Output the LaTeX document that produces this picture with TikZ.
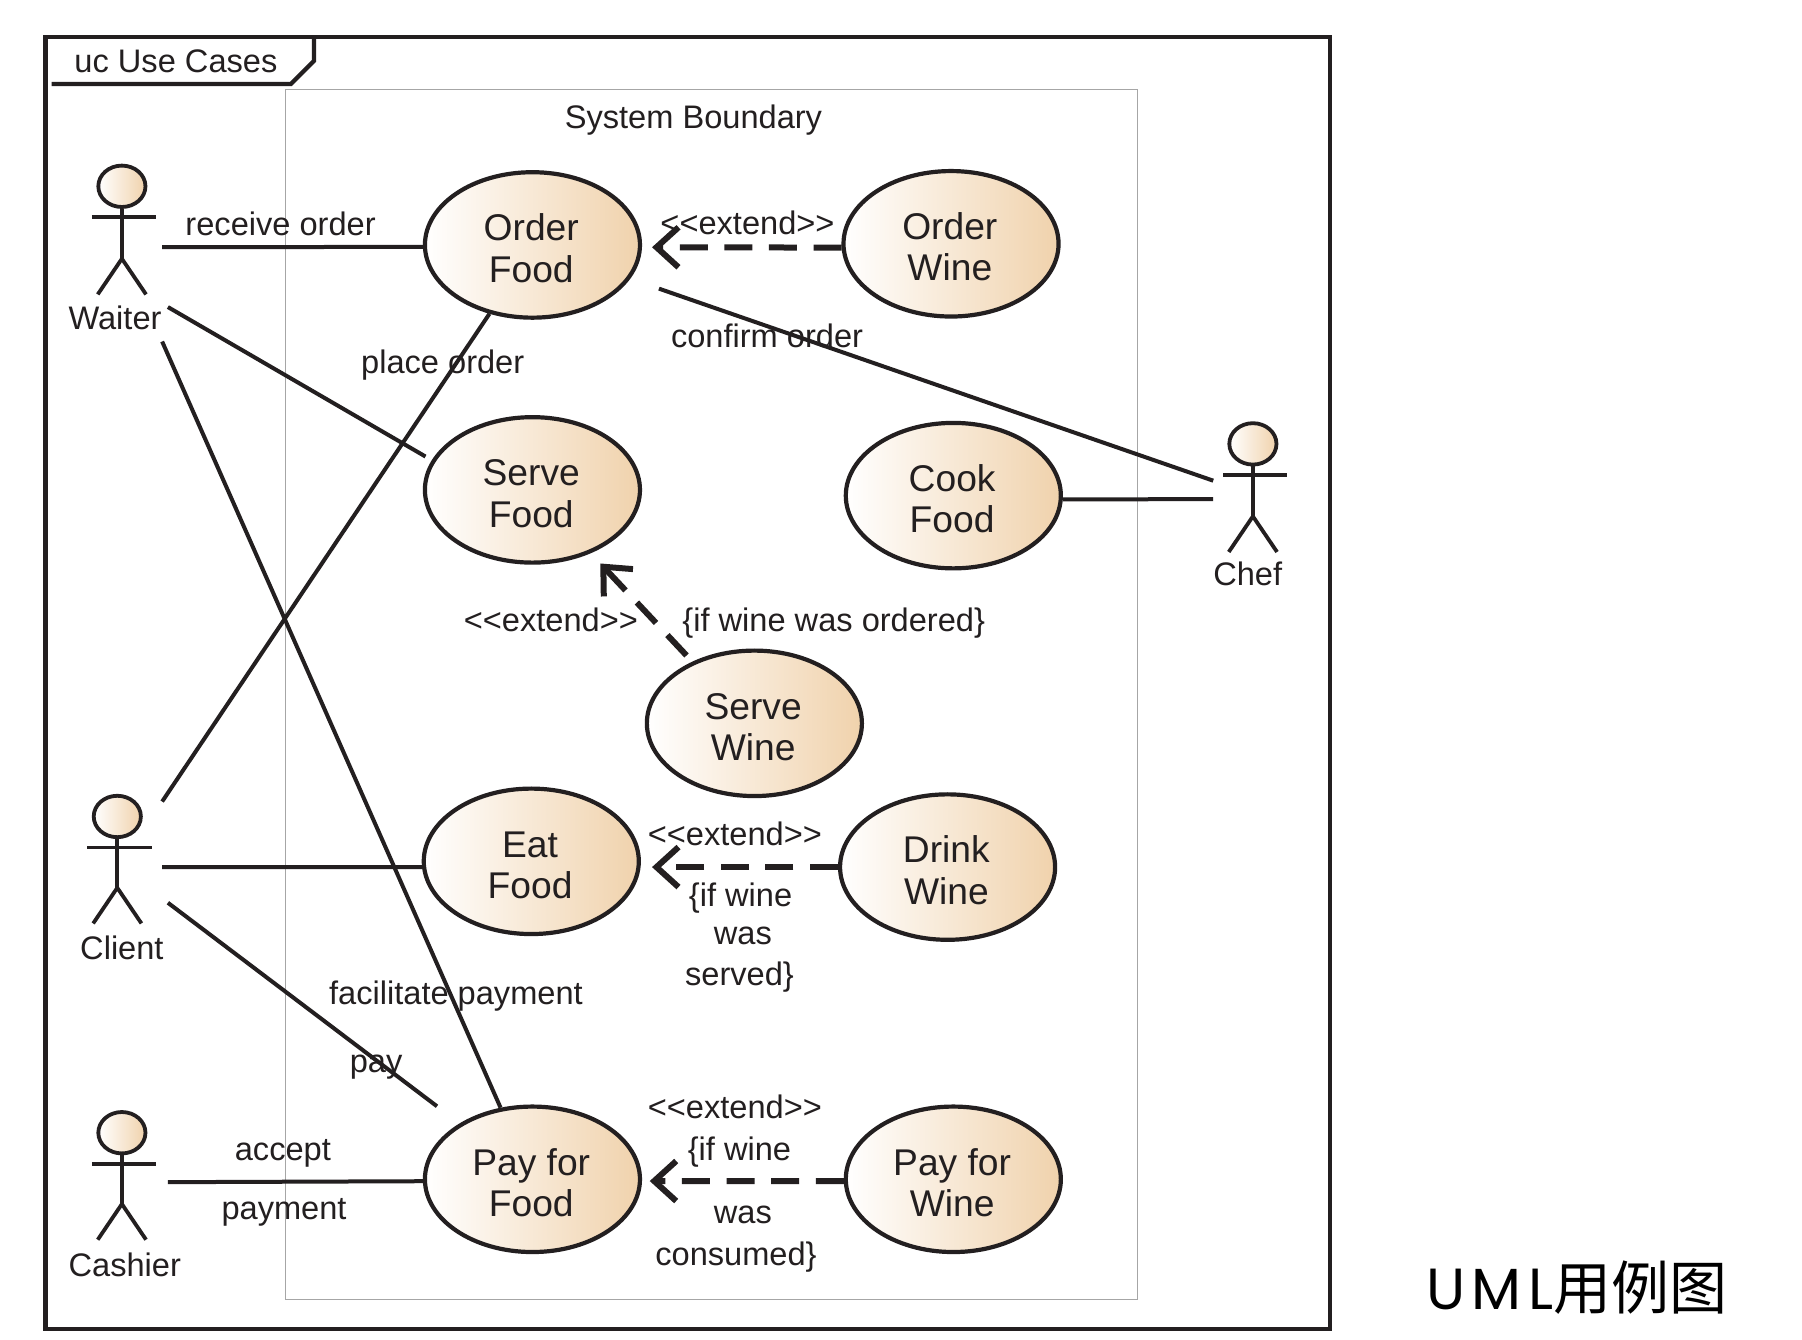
\documentclass[tikz,border=0pt]{standalone}
\usepackage{fontspec}
\setmainfont{Liberation Sans}
\newfontfamily\latinhead[LetterSpace=11]{Poppins}
\newfontfamily\cjkhead{Noto Sans CJK SC}
\usetikzlibrary{shapes.geometric,arrows.meta}
\definecolor{ink}{HTML}{231F20}
\definecolor{tan}{HTML}{F0D2AC}
\newcommand{\uctext}[2]{\rule{0pt}{16.6pt}\kern-1.2pt #1\\\kern-1.2pt #2}
\tikzset{
 usecase/.style={ellipse,draw=ink,line width=2.1pt,left color=white,right color=tan,minimum width=187*0.575pt,minimum height=126.5*0.575pt,inner sep=0pt,align=center,text=ink,font=\fontsize{18.6}{20.7}\selectfont},
 lbl/.style={text=ink,inner sep=0pt,align=center,font=\fontsize{16.3}{20}\selectfont},
 conn/.style={draw=ink,line width=2pt},
 ext/.style={draw=ink,line width=3pt,dash pattern=on 14pt off 8.3pt,-{Straight Barb[length=11pt,width=20pt,line width=3pt]}},
 stick/.style={draw=ink,line width=1.9pt},
 head/.style={ellipse,draw=ink,line width=1.9pt,left color=white,right color=tan,minimum width=41*0.575pt,minimum height=36*0.575pt,inner sep=0pt},
}
\newcommand{\actor}[6]{% name, x, head y, arms y, hip y, feet y
 \node[head] (#1h) at (#2,#3) {};
 \coordinate (#1b) at (#2,#5);
 \coordinate (#1al) at ({#2-26},#4);
 \coordinate (#1ar) at ({#2+30},#4);
 \coordinate (#1fl) at ({#2-21},#6);
 \coordinate (#1fr) at ({#2+21},#6);
 \draw[stick] (#1h.south) -- (#1b);
 \draw[stick] (#1al) -- (#1ar);
 \draw[stick] (#1fl) -- (#1b) -- (#1fr);
}
\begin{document}
\begin{tikzpicture}[x=0.575pt,y=-0.575pt]
\useasboundingbox (0,0) rectangle (1567,1165.2);
\fill[white] (0,0) rectangle (1567,1165.2);
% frame
\coordinate (fa) at (39.5,32);
\coordinate (fb) at (1156.5,1155.5);
\draw[draw=ink,line width=2.1pt] (fa) rectangle (fb);
\coordinate (ta) at (45,73);
\coordinate (tb) at (253,73);
\coordinate (tc) at (273,53);
\coordinate (td) at (273,33);
\draw[draw=ink,line width=2.1pt] (ta) -- (tb) -- (tc) -- (td);
\node[lbl] (frameT) at (153,53) {uc Use Cases};
\coordinate (ba) at (248,78);
\coordinate (bb) at (989,1130);
\draw[draw=black!35,line width=0.6pt] (ba) rectangle (bb);
\node[lbl] (sysT) at (603,104.5) {System Boundary};
% use cases
\node[usecase] (of) at (463,213) {\uctext{Order}{Food}};
\node[usecase] (ow) at (827,212) {\uctext{Order}{Wine}};
\node[usecase] (sf) at (463,426) {\uctext{Serve}{Food}};
\node[usecase] (cf) at (829,431) {\uctext{Cook}{Food}};
\node[usecase] (sw) at (656,629) {\uctext{Serve}{Wine}};
\node[usecase] (ef) at (462,749) {\uctext{Eat}{Food}};
\node[usecase] (dw) at (824,754) {\uctext{Drink}{Wine}};
\node[usecase] (pf) at (463,1025.5) {\uctext{Pay for}{Food}};
\node[usecase] (pw) at (829,1025.5) {\uctext{Pay for}{Wine}};
% actors
\actor{w}{106}{162}{189}{225}{256}
\node[lbl] (wl) at (100,276) {Waiter};
\actor{k}{1089.5}{386}{413}{449}{480}
\node[lbl] (kl) at (1085,499) {Chef};
\actor{c}{102}{710}{737}{772}{803}
\node[lbl] (cl) at (106,824) {Client};
\actor{p}{106}{985}{1012}{1047}{1078}
\node[lbl] (pl) at (108.5,1099.5) {Cashier};
% connector free ends
\coordinate (w1) at (141,215);
\coordinate (w2) at (146,267);
\coordinate (w2e) at (370,397);
\coordinate (w3) at (141,297);
\coordinate (c1) at (141,697);
\coordinate (c2) at (141,754);
\coordinate (c3) at (146,785);
\coordinate (c3e) at (380,962);
\coordinate (p1) at (146,1028);
\coordinate (k1) at (1055,418);
\coordinate (k2) at (1055,434);
\coordinate (of1) at (573,251);
\coordinate (a1) at (567,215);
\coordinate (a2) at (522,490);
\coordinate (a2s) at (597,570);
\coordinate (a3) at (567,754);
\coordinate (a4) at (565,1027);
\draw[conn] (w1) -- (of.181);
\draw[conn] (w2) -- (w2e);
\draw[conn] (w3) -- (pf.114);
\draw[conn] (c1) -- (of.238);
\draw[conn] (c2) -- (ef.183);
\draw[conn] (c3) -- (c3e);
\draw[conn] (p1) -- (pf.181);
\draw[conn] (of1) -- (k1);
\draw[conn] (cf.358) -- (k2);
\draw[ext] (ow.182) -- (a1);
\draw[ext] (a2s) -- (a2);
\draw[ext] (dw.180) -- (a3);
\draw[ext] (pw.181) -- (a4);
% labels
\node[lbl] (l1) at (244,195) {receive order};
\node[lbl] (l2) at (385,317.5) {place order};
\node[lbl] (l3) at (667,292) {confirm order};
\node[lbl] (l4) at (650,194) {<{}<extend>{}>};
\node[lbl] (l5) at (479,539) {<{}<extend>{}>};
\node[lbl] (l6) at (725,542) {\{if wine was ordered\}};
\node[lbl] (l7) at (639,725) {<{}<extend>{}>};
\node[lbl] (l8) at (644,781) {\{if wine};
\node[lbl] (l9) at (646,814) {was};
\node[lbl] (l10) at (643,850) {served\}};
\node[lbl] (l11) at (396.5,866) {facilitate payment};
\node[lbl] (l12) at (327,928) {pay};
\node[lbl] (l13) at (246,1002.5) {accept};
\node[lbl] (l14) at (247,1054) {payment};
\node[lbl] (l15) at (639,962.5) {<{}<extend>{}>};
\node[lbl] (l16) at (643,1002) {\{if wine};
\node[lbl] (l17) at (646,1056.5) {was};
\node[lbl] (l18) at (640,1093) {consumed\}};
\node[inner sep=0pt,anchor=west,text=black] (cap) at (1240,1120) {\fontsize{29}{30}\selectfont\latinhead UML\cjkhead 用例图};
\end{tikzpicture}
\end{document}
